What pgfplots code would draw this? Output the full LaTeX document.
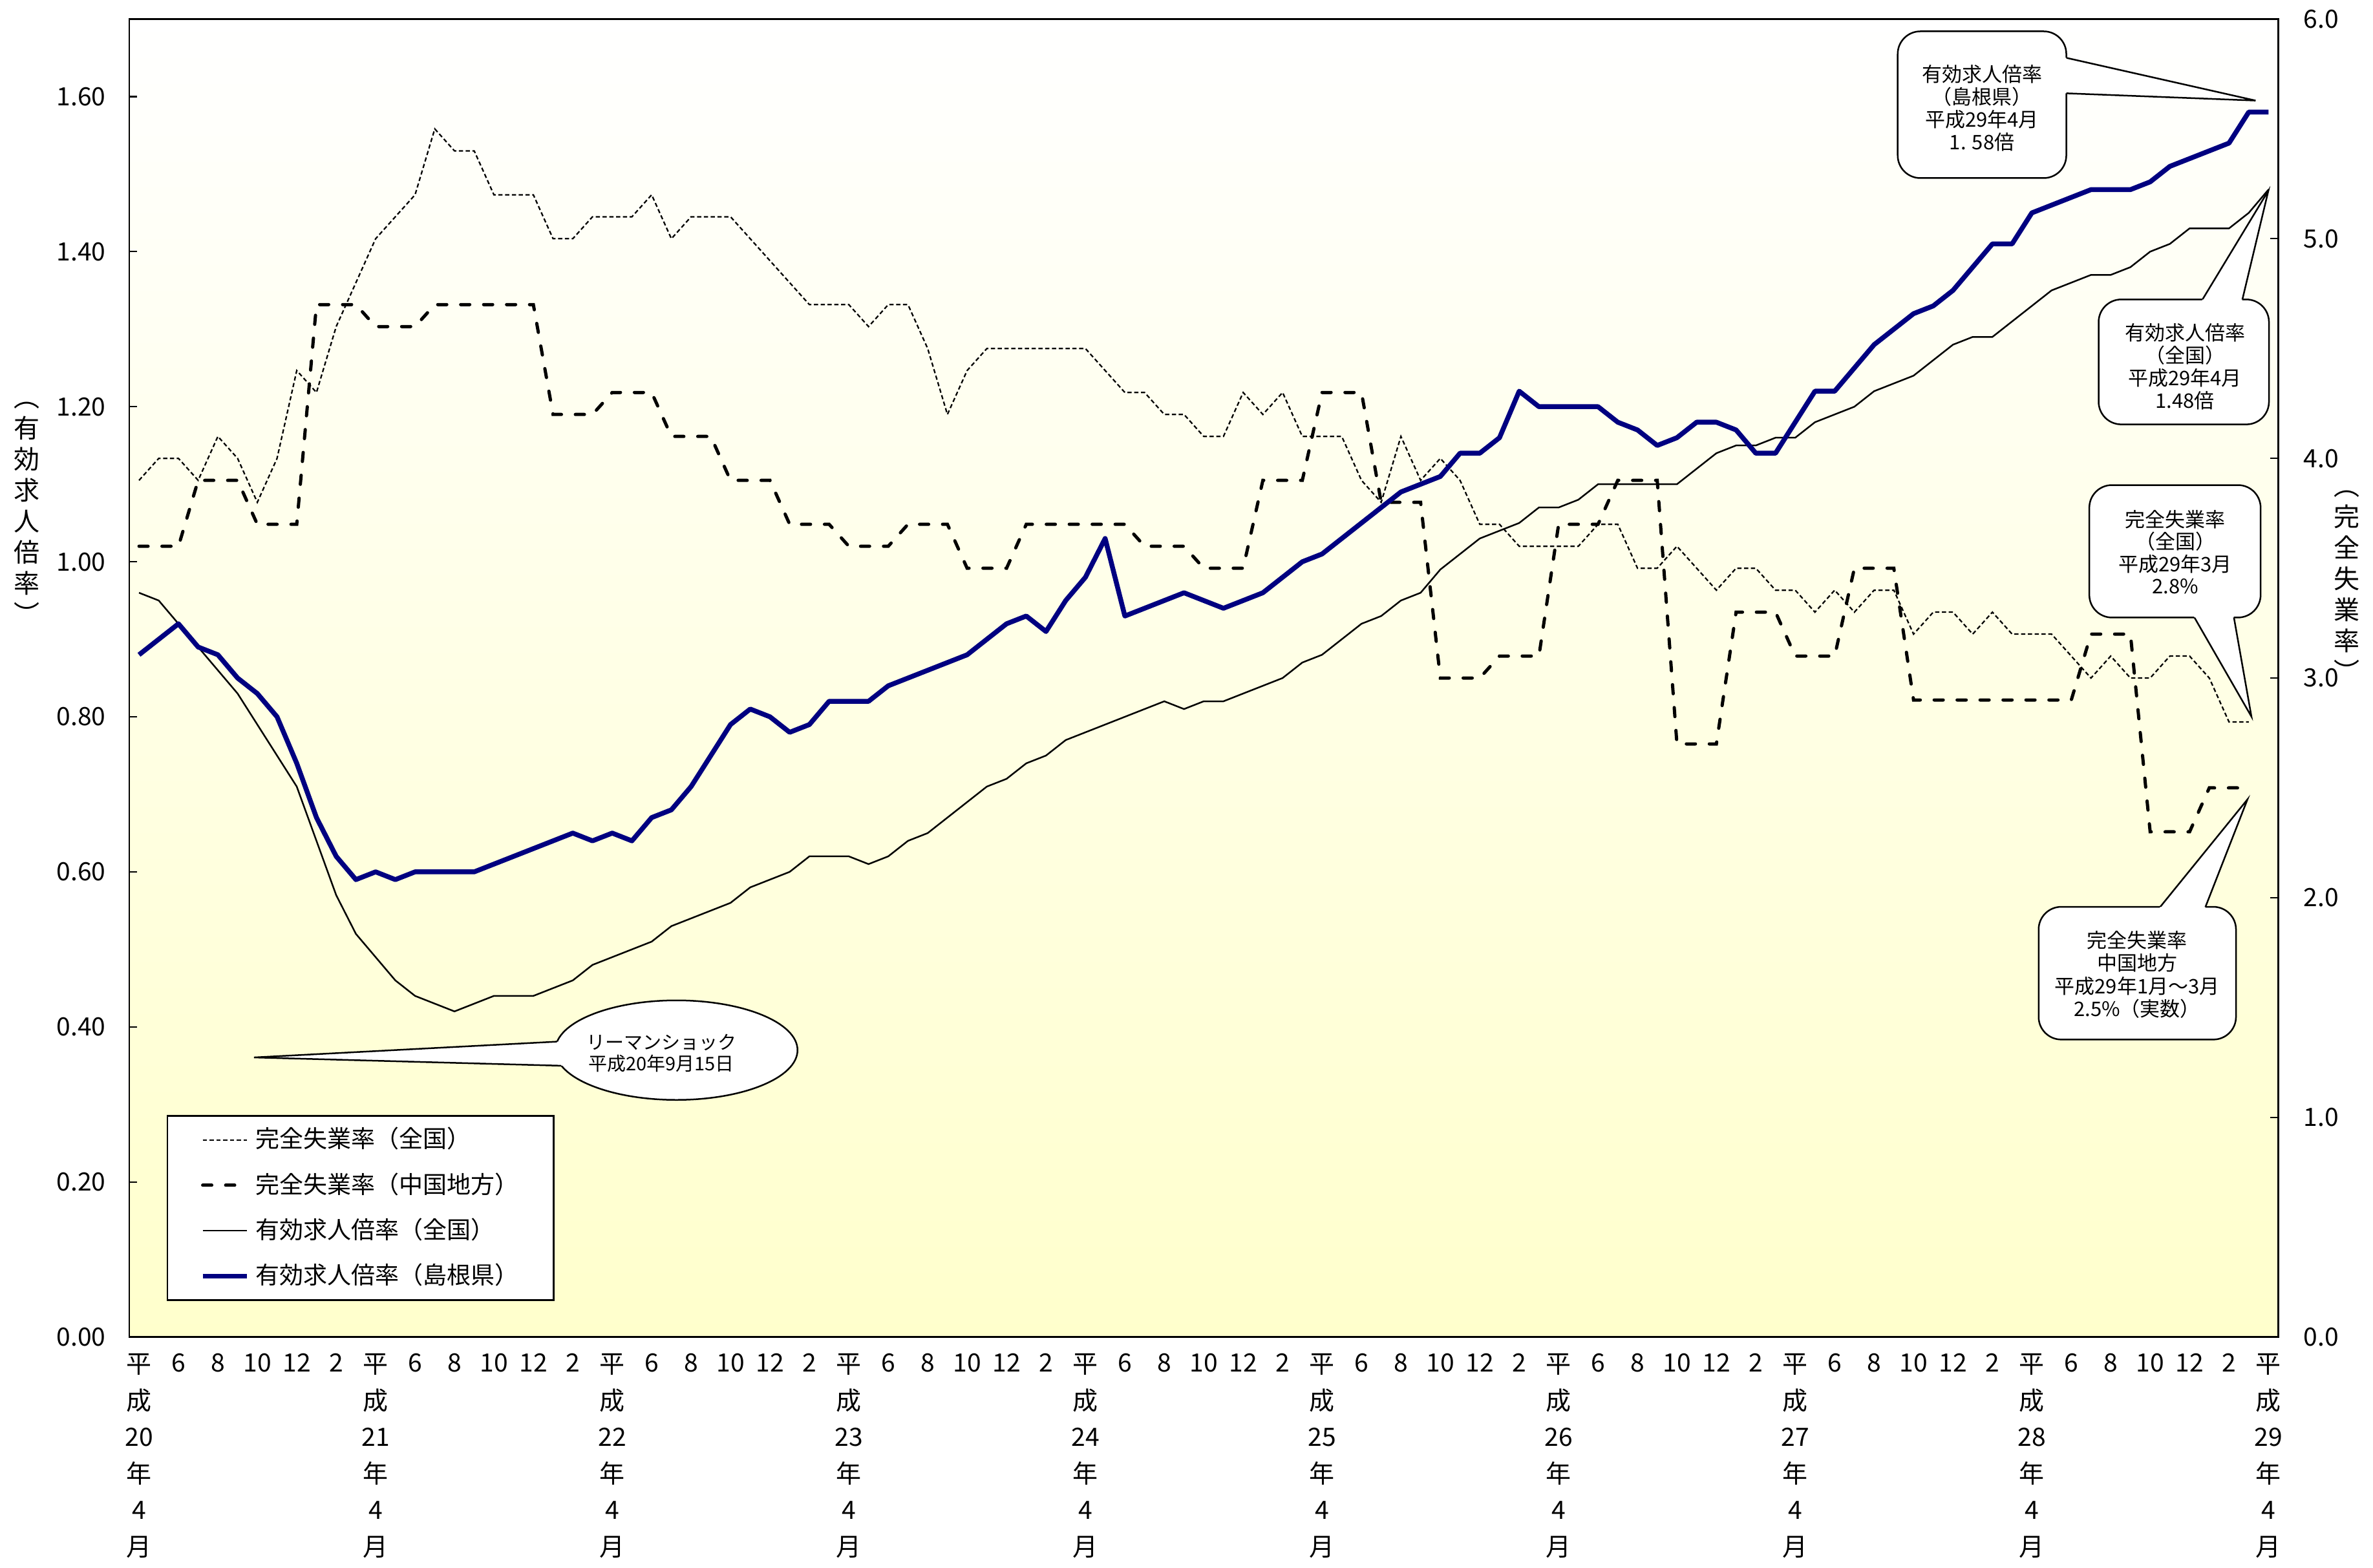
\documentclass[border=0pt]{standalone}
\usepackage{fontspec}
\setmainfont{Noto Sans CJK JP}
\usepackage{pgfplots}
\pgfplotsset{compat=1.18}
\usepackage{pgfplotstable}
\definecolor{navyb}{RGB}{0,0,128}
\definecolor{bgy}{RGB}{255,255,204}
\definecolor{gridg}{RGB}{166,166,166}
\tikzset{
  unempnat/.style={black, line width=0.45pt, dash pattern=on 1.3pt off 0.8pt},
  unempreg/.style={black, line width=1pt, line cap=round, dash pattern=on 2.8pt off 4.3pt},
  ratnat/.style={black, line width=0.5pt},
  ratshim/.style={navyb, line width=1.5pt, line join=round},
}
% 有効求人倍率（島根県） H20/4 - H29/4
\pgfplotstableread[row sep=\\]{v\\
0.88\\0.90\\0.92\\0.89\\0.88\\0.85\\0.83\\0.80\\0.74\\0.67\\
0.62\\0.59\\0.60\\0.59\\0.60\\0.60\\0.60\\0.60\\0.61\\0.62\\
0.63\\0.64\\0.65\\0.64\\0.65\\0.64\\0.67\\0.68\\0.71\\0.75\\
0.79\\0.81\\0.80\\0.78\\0.79\\0.82\\0.82\\0.82\\0.84\\0.85\\
0.86\\0.87\\0.88\\0.90\\0.92\\0.93\\0.91\\0.95\\0.98\\1.03\\
0.93\\0.94\\0.95\\0.96\\0.95\\0.94\\0.95\\0.96\\0.98\\1.00\\
1.01\\1.03\\1.05\\1.07\\1.09\\1.10\\1.11\\1.14\\1.14\\1.16\\
1.22\\1.20\\1.20\\1.20\\1.20\\1.18\\1.17\\1.15\\1.16\\1.18\\
1.18\\1.17\\1.14\\1.14\\1.18\\1.22\\1.22\\1.25\\1.28\\1.30\\
1.32\\1.33\\1.35\\1.38\\1.41\\1.41\\1.45\\1.46\\1.47\\1.48\\
1.48\\1.48\\1.49\\1.51\\1.52\\1.53\\1.54\\1.58\\1.58\\}\shimane
% 有効求人倍率（全国）
\pgfplotstableread[row sep=\\]{v\\
0.96\\0.95\\0.92\\0.89\\0.86\\0.83\\0.79\\0.75\\0.71\\0.64\\
0.57\\0.52\\0.49\\0.46\\0.44\\0.43\\0.42\\0.43\\0.44\\0.44\\
0.44\\0.45\\0.46\\0.48\\0.49\\0.50\\0.51\\0.53\\0.54\\0.55\\
0.56\\0.58\\0.59\\0.60\\0.62\\0.62\\0.62\\0.61\\0.62\\0.64\\
0.65\\0.67\\0.69\\0.71\\0.72\\0.74\\0.75\\0.77\\0.78\\0.79\\
0.80\\0.81\\0.82\\0.81\\0.82\\0.82\\0.83\\0.84\\0.85\\0.87\\
0.88\\0.90\\0.92\\0.93\\0.95\\0.96\\0.99\\1.01\\1.03\\1.04\\
1.05\\1.07\\1.07\\1.08\\1.10\\1.10\\1.10\\1.10\\1.10\\1.12\\
1.14\\1.15\\1.15\\1.16\\1.16\\1.18\\1.19\\1.20\\1.22\\1.23\\
1.24\\1.26\\1.28\\1.29\\1.29\\1.31\\1.33\\1.35\\1.36\\1.37\\
1.37\\1.38\\1.40\\1.41\\1.43\\1.43\\1.43\\1.45\\1.48\\}\national
% 完全失業率（全国） H20/4 - H29/3
\pgfplotstableread[row sep=\\]{v\\
3.9\\4.0\\4.0\\3.9\\4.1\\4.0\\3.8\\4.0\\4.4\\4.3\\
4.6\\4.8\\5.0\\5.1\\5.2\\5.5\\5.4\\5.4\\5.2\\5.2\\
5.2\\5.0\\5.0\\5.1\\5.1\\5.1\\5.2\\5.0\\5.1\\5.1\\
5.1\\5.0\\4.9\\4.8\\4.7\\4.7\\4.7\\4.6\\4.7\\4.7\\
4.5\\4.2\\4.4\\4.5\\4.5\\4.5\\4.5\\4.5\\4.5\\4.4\\
4.3\\4.3\\4.2\\4.2\\4.1\\4.1\\4.3\\4.2\\4.3\\4.1\\
4.1\\4.1\\3.9\\3.8\\4.1\\3.9\\4.0\\3.9\\3.7\\3.7\\
3.6\\3.6\\3.6\\3.6\\3.7\\3.7\\3.5\\3.5\\3.6\\3.5\\
3.4\\3.5\\3.5\\3.4\\3.4\\3.3\\3.4\\3.3\\3.4\\3.4\\
3.2\\3.3\\3.3\\3.2\\3.3\\3.2\\3.2\\3.2\\3.1\\3.0\\
3.1\\3.0\\3.0\\3.1\\3.1\\3.0\\2.8\\2.8\\}\unempnat
% 完全失業率（中国地方） quarterly
\pgfplotstableread[row sep=\\]{v\\
3.6\\3.6\\3.6\\3.9\\3.9\\3.9\\3.7\\3.7\\3.7\\4.7\\4.7\\4.7\\
4.6\\4.6\\4.6\\4.7\\4.7\\4.7\\4.7\\4.7\\4.7\\4.2\\4.2\\4.2\\
4.3\\4.3\\4.3\\4.1\\4.1\\4.1\\3.9\\3.9\\3.9\\3.7\\3.7\\3.7\\
3.6\\3.6\\3.6\\3.7\\3.7\\3.7\\3.5\\3.5\\3.5\\3.7\\3.7\\3.7\\
3.7\\3.7\\3.7\\3.6\\3.6\\3.6\\3.5\\3.5\\3.5\\3.9\\3.9\\3.9\\
4.3\\4.3\\4.3\\3.8\\3.8\\3.8\\3.0\\3.0\\3.0\\3.1\\3.1\\3.1\\
3.7\\3.7\\3.7\\3.9\\3.9\\3.9\\2.7\\2.7\\2.7\\3.3\\3.3\\3.3\\
3.1\\3.1\\3.1\\3.5\\3.5\\3.5\\2.9\\2.9\\2.9\\2.9\\2.9\\2.9\\
2.9\\2.9\\2.9\\3.2\\3.2\\3.2\\2.3\\2.3\\2.3\\2.5\\2.5\\2.5\\}\unempreg

% #1 body options, #2 body path, #3 pointer path
\newcommand{\callout}[3]{%
  \fill[white,#1] #2; \fill[white] #3;
  \begin{scope}[even odd rule]\clip (-300,-300) rectangle (4000,2800) #3; \draw[line width=0.5pt,#1] #2;\end{scope}
  \begin{scope}[even odd rule,#1]\clip (-300,-300) rectangle (4000,2800) #2; \draw[line width=0.5pt,sharp corners] #3;\end{scope}}

\begin{document}
\begin{tikzpicture}
% ---------- right axis: unemployment ----------
\begin{axis}[name=R, at={(0,0)}, anchor=south west, scale only axis,
  width=664.9pt, height=407.8pt,
  xmin=0, xmax=109, ymin=0, ymax=6,
  axis background/.style={top color=white, middle color=bgy!70!white, bottom color=bgy},
  axis line style={line width=0.5pt},
  xtick=\empty,
  minor xtick={12,24,36,48,60,72,84,96,108},
  xminorgrids=true, minor x grid style={gridg, line width=0.45pt},
  minor tick length=0pt,
  ytick={0,1,2,3,4,5,6}, ytick pos=right, yticklabel pos=right,
  major tick length=2.5pt, tick style={black, line width=0.45pt},
  /pgf/number format/assume math mode=true,
  yticklabel style={/pgf/number format/fixed, /pgf/number format/fixed zerofill,
    /pgf/number format/precision=1, font=\fontsize{7.8}{9}\selectfont, xshift=4.3pt},
  ylabel={︵\\完\\全\\失\\業\\率\\︶},
  every axis y label/.style={at={(axis description cs:1.032,0.570)}, anchor=center,
    align=center, font=\fontsize{8}{9.6}\selectfont},
]
\addplot[unempnat] table[x expr=\coordindex+0.5, y=v] {\unempnat};
\addplot[unempreg] table[x expr=\coordindex+0.5, y=v] {\unempreg};
\end{axis}
% ---------- left axis: job-opening ratio ----------
\begin{axis}[name=L, at={(0,0)}, anchor=south west, scale only axis,
  width=664.9pt, height=407.8pt,
  xmin=0, xmax=109, ymin=0, ymax=1.7,
  axis line style={line width=0.5pt},
  xtick={0.5,2.5,...,108.5},
  xticklabels={{平\\成\\20\\年\\4\\月},6,8,10,12,2,
               {平\\成\\21\\年\\4\\月},6,8,10,12,2,
               {平\\成\\22\\年\\4\\月},6,8,10,12,2,
               {平\\成\\23\\年\\4\\月},6,8,10,12,2,
               {平\\成\\24\\年\\4\\月},6,8,10,12,2,
               {平\\成\\25\\年\\4\\月},6,8,10,12,2,
               {平\\成\\26\\年\\4\\月},6,8,10,12,2,
               {平\\成\\27\\年\\4\\月},6,8,10,12,2,
               {平\\成\\28\\年\\4\\月},6,8,10,12,2,
               {平\\成\\29\\年\\4\\月}},
  xtick style={draw=none},
  xticklabel style={anchor=north, align=center, font=\fontsize{7.8}{11.3}\selectfont,
    inner sep=0pt, yshift=-5pt},
  ytick={0,0.2,0.4,0.6,0.8,1.0,1.2,1.4,1.6}, ytick pos=left, yticklabel pos=left,
  major tick length=2.5pt, ytick style={black, line width=0.45pt},
  /pgf/number format/assume math mode=true,
  yticklabel style={/pgf/number format/fixed, /pgf/number format/fixed zerofill,
    /pgf/number format/precision=2, font=\fontsize{7.8}{9}\selectfont, xshift=-3.7pt},
  ylabel={︵\\有\\効\\求\\人\\倍\\率\\︶},
  every axis y label/.style={at={(axis description cs:-0.0475,0.625)}, anchor=center,
    align=center, font=\fontsize{8}{9.6}\selectfont},
  legend style={at={(axis description cs:0.01736,0.1683)}, anchor=north west,
    draw=black, line width=0.5pt, fill=white, font=\fontsize{7.4}{8}\selectfont,
    inner xsep=10.2pt, inner ysep=1.5pt, row sep=2.2pt, cells={anchor=west}},
  legend image code/.code={\draw[#1] (0pt,0pt) -- (13.6pt,0pt);},
]
\addlegendimage{unempnat}
\addlegendentry{\makebox[80pt][l]{完全失業率（全国）}}
\addlegendimage{unempreg}
\addlegendentry{\makebox[80pt][l]{完全失業率（中国地方）}}
\addplot[ratnat] table[x expr=\coordindex+0.5, y=v] {\national};
\addlegendentry{\makebox[80pt][l]{有効求人倍率（全国）}}
\addplot[ratshim] table[x expr=\coordindex+0.5, y=v] {\shimane};
\addlegendentry{\makebox[80pt][l]{有効求人倍率（島根県）}}
\end{axis}
% ---------- annotations (coordinates in reference pixels) ----------
\begin{scope}[x=0.2pt, y=-0.2pt, shift={(-39.96pt,413.7pt)}]
\callout{rounded corners=7pt}{(2935.6,48.5) rectangle (3196.4,275.5)}
        {(3184,86.7) -- (3489.2,155.6) -- (3184,143.9) -- cycle}
\node[align=center, font=\fontsize{6.2}{7}\selectfont, inner sep=0pt] at (3066,167)
  {有効求人倍率\\（島根県）\\平成29年4月\\1. 58倍};
\callout{rounded corners=7pt}{(3246.4,463.3) rectangle (3509.9,656.6)}
        {(3400,475) -- (3509,295) -- (3466,475) -- cycle}
\node[align=center, font=\fontsize{6.2}{7}\selectfont, inner sep=0pt] at (3380,567)
  {有効求人倍率\\（全国）\\平成29年4月\\1.48倍};
\callout{rounded corners=7pt}{(3232,750.5) rectangle (3497,955.4)}
        {(3387.5,943) -- (3482.8,1108.7) -- (3453.5,943) -- cycle}
\node[align=center, font=\fontsize{6.2}{6.9}\selectfont, inner sep=0pt] at (3365,854)
  {完全失業率\\（全国）\\平成29年3月\\2.8\%};
\callout{rounded corners=7pt}{(3153.6,1403) rectangle (3458.9,1608.3)}
        {(3332,1415) -- (3476.7,1236.7) -- (3407,1415) -- cycle}
\node[align=center, font=\fontsize{6.2}{7.1}\selectfont, inner sep=0pt] at (3306,1508)
  {完全失業率\\中国地方\\平成29年1月～3月\\2.5\%（実数）};
\callout{sharp corners}{(1046.4,1624.7) ellipse [x radius=187.3, y radius=77]}
        {(872,1611) -- (393,1636) -- (874,1649) -- cycle}
\node[align=center, font=\fontsize{5.8}{6.6}\selectfont, inner sep=0pt] at (1023,1629)
  {リーマンショック\\平成20年9月15日};
\end{scope}
\pgfresetboundingbox
\useasboundingbox (-39.96pt,-71.3pt) rectangle (694.2pt,413.7pt);
\end{tikzpicture}
\end{document}
